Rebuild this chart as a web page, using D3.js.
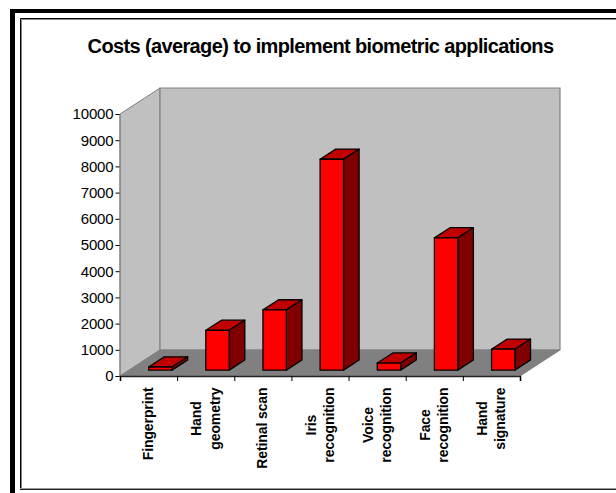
<!DOCTYPE html>
<html>
<head>
<meta charset="utf-8">
<script src="https://cdn.jsdelivr.net/npm/d3@7"></script>
<style>
html,body{margin:0;padding:0;background:#fff;}
svg{display:block;}
text{font-family:"Liberation Sans",Arial,sans-serif;fill:#000;}
</style>
</head>
<body>
<svg id="chart" width="616" height="493"></svg>
<script>
// Average cost per biometric application
const categories = [
  ["Fingerprint"],
  ["Hand", "geometry"],
  ["Retinal scan"],
  ["Iris", "recognition"],
  ["Voice", "recognition"],
  ["Face", "recognition"],
  ["Hand", "signature"]
];
const costs = [120, 1520, 2300, 8050, 270, 5050, 800];
const yTicks = [0, 1000, 2000, 3000, 4000, 5000, 6000, 7000, 8000, 9000, 10000];
const titleText = "Costs (average) to implement biometric applications";

const svg = d3.select("#chart");

// Frame: heavy outer rule and thin inner rule, both running off the right edge
svg.append("rect").attr("x", 10).attr("y", 9).attr("width", 5).attr("height", 484).attr("fill", "#000");
svg.append("rect").attr("x", 10).attr("y", 9).attr("width", 606).attr("height", 4).attr("fill", "#000");
svg.append("path").attr("d", "M20.5,490V18.5H616").attr("fill", "none").attr("stroke", "#000").attr("stroke-width", 1);
svg.append("path").attr("d", "M21.5,488V19.5H616").attr("fill", "none").attr("stroke", "#888").attr("stroke-width", 1);
svg.append("path").attr("d", "M20,489.5H616").attr("stroke", "#222").attr("stroke-width", 1);
svg.append("path").attr("d", "M20,488.5H616").attr("stroke", "#999").attr("stroke-width", 1);

svg.append("text").attr("x", 320.5).attr("y", 53).attr("text-anchor", "middle")
  .attr("font-size", 20).attr("font-weight", "bold").attr("letter-spacing", -0.63).text(titleText);

// Oblique projection: a depth of 0..1 shifts a point up and to the right
const depthX = 40, depthY = -26;
const x = d3.scaleBand().domain(d3.range(categories.length)).range([120, 520]);
const y = d3.scaleLinear().domain([0, 10000]).range([376, 114]);
const project = (px, py, d) => [px + d * depthX, py + d * depthY];
const poly = pts => "M" + pts.map(p => p.join(",")).join("L") + "Z";

const [x0, x1] = x.range();
const [y0, y1] = y.range();

// Side wall, back wall and floor
svg.append("path").attr("fill", "#c0c0c0").attr("stroke", "#808080")
  .attr("d", poly([project(x0, y0, 0), project(x0, y1, 0), project(x0, y1, 1), project(x0, y0, 1)]));
svg.append("path").attr("fill", "#c0c0c0").attr("stroke", "#808080").attr("stroke-width", 1.2)
  .attr("d", poly([project(x0, y0, 1), project(x0, y1, 1), project(x1, y1, 1), project(x1, y0, 1)]));
svg.append("path").attr("fill", "#808080").attr("stroke", "#808080")
  .attr("d", poly([project(x0, y0, 0), project(x0, y0, 1), project(x1, y0, 1), project(x1, y0, 0)]));

// Bars as three-faced boxes
const barStart = 0.225, barEnd = 0.615;
const barWidth = 23.4, barNudge = 2.8;
const box = (v, i) => {
  const l = x(i) + x.bandwidth() / 2 - barWidth / 2 + barNudge;
  return { l, r: l + barWidth, top: y(v), base: y(0) };
};
const faces = [
  { fill: "#c00000", pts: f => [project(f.l, f.top, barStart), project(f.r, f.top, barStart), project(f.r, f.top, barEnd), project(f.l, f.top, barEnd)] },
  { fill: "#800000", pts: f => [project(f.r, f.base, barStart), project(f.r, f.top, barStart), project(f.r, f.top, barEnd), project(f.r, f.base, barEnd)] },
  { fill: "#ff0000", pts: f => [project(f.l, f.base, barStart), project(f.l, f.top, barStart), project(f.r, f.top, barStart), project(f.r, f.base, barStart)] }
];
const bars = svg.append("g").selectAll("g").data(costs).join("g");
faces.forEach(face => {
  bars.append("path").attr("fill", face.fill).attr("stroke", "#000").attr("stroke-width", 1.3)
    .attr("stroke-linejoin", "round")
    .attr("d", (v, i) => poly(face.pts(box(v, i))));
});

// Value axis
const yAxis = d3.axisLeft(y).tickValues(yTicks).tickSize(4).tickPadding(2).tickFormat(d3.format("d"));
const yG = svg.append("g").attr("transform", `translate(${x0 - 0.5},0)`).call(yAxis);
yG.select(".domain").attr("stroke", "#808080");
yG.selectAll("line").attr("stroke", "#000");
yG.selectAll("text").attr("font-size", 15).attr("letter-spacing", -0.15).attr("font-family", "Liberation Sans");

// Category axis with tick marks at the band edges
const xEdge = d3.scaleLinear().domain([0, categories.length]).range([x0, x1]);
const xAxis = d3.axisBottom(xEdge).ticks(categories.length).tickSize(5).tickFormat("");
const xG = svg.append("g").attr("transform", `translate(0,${y0})`).call(xAxis);
xG.select(".domain").attr("stroke", "#222").attr("stroke-width", 1.6);
xG.selectAll("line").attr("stroke", "#000");

// Category labels read bottom-to-top; the longest line of each starts just under the ticks
const labelTop = 387.5;
const labels = svg.append("g").selectAll("text").data(categories).join("text")
  .attr("text-anchor", "middle").attr("font-size", 14).attr("font-weight", "bold").attr("letter-spacing", -0.1);
labels.selectAll("tspan").data(d => d).join("tspan")
  .attr("x", 0)
  .attr("y", (d, j, nodes) => nodes.length === 1 ? 4.3 : (j === 0 ? -4.5 : 14))
  .text(d => d);
labels.attr("transform", function (d, i) {
  const longest = d3.max(Array.from(this.querySelectorAll("tspan")), t => t.getComputedTextLength());
  return `translate(${x(i) + x.bandwidth() / 2},${labelTop + longest / 2}) rotate(-90)`;
});
</script>
</body>
</html>
